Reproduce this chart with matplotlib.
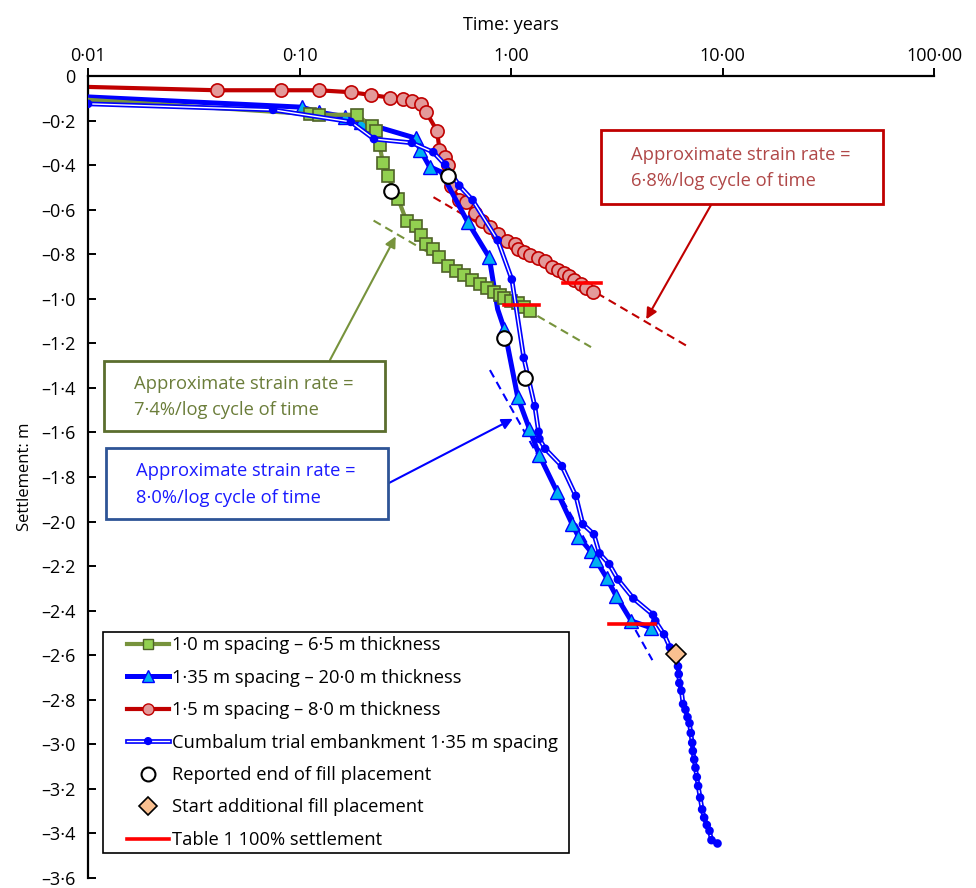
import numpy as np
import matplotlib
matplotlib.use("Agg")
import matplotlib.pyplot as plt
import matplotlib.patheffects as pe
from matplotlib.lines import Line2D
from matplotlib.patches import Rectangle

plt.rcParams['font.family'] = ['Open Sans', 'DejaVu Sans']

# ---- data (time in years, settlement in m) ----
green_t = [0.01, 0.112, 0.123, 0.186, 0.219, 0.229, 0.239, 0.248, 0.261, 0.293, 0.321,
           0.354, 0.375, 0.397, 0.428, 0.459, 0.505, 0.551, 0.597, 0.656, 0.716, 0.770,
           0.828, 0.885, 0.930, 1.000, 1.076, 1.157, 1.235]
green_s = [-0.107, -0.171, -0.174, -0.174, -0.225, -0.249, -0.309, -0.390, -0.450, -0.552, -0.653,
           -0.673, -0.713, -0.752, -0.775, -0.814, -0.853, -0.877, -0.895, -0.916, -0.934, -0.952,
           -0.970, -0.981, -0.996, -1.008, -1.020, -1.035, -1.056]

blue_t = [0.01, 0.1025, 0.123, 0.165, 0.196, 0.354, 0.372, 0.412, 0.466, 0.623, 0.789,
          0.865, 0.930, 1.076, 1.222, 1.362, 1.652, 1.940, 2.085, 2.377, 2.520, 2.830,
          3.134, 3.704, 4.571]
blue_s = [-0.094, -0.140, -0.162, -0.183, -0.207, -0.279, -0.332, -0.407, -0.430, -0.654, -0.814,
          -1.047, -1.136, -1.442, -1.584, -1.703, -1.867, -2.009, -2.068, -2.133, -2.173, -2.252,
          -2.332, -2.446, -2.476]
blue_marked = [1, 2, 3, 4, 5, 6, 7, 9, 10, 12, 13, 14, 15, 16, 17, 18, 19, 20, 21, 22, 23, 24]

red_t = [0.01, 0.0407, 0.0818, 0.123, 0.176, 0.217, 0.268, 0.310, 0.340, 0.374, 0.397,
         0.447, 0.459, 0.490, 0.501, 0.521, 0.570, 0.615, 0.675, 0.731, 0.793, 0.865,
         0.957, 1.044, 1.076, 1.156, 1.235, 1.339, 1.450, 1.560, 1.665, 1.778, 1.889,
         1.995, 2.146, 2.266, 2.438]
red_s = [-0.049, -0.064, -0.064, -0.064, -0.073, -0.085, -0.097, -0.103, -0.112, -0.127, -0.162,
         -0.246, -0.331, -0.365, -0.401, -0.492, -0.555, -0.567, -0.617, -0.650, -0.676, -0.711,
         -0.741, -0.754, -0.775, -0.790, -0.805, -0.816, -0.832, -0.856, -0.871, -0.886, -0.898,
         -0.916, -0.935, -0.950, -0.969]

cumb_t = [0.01, 0.075, 0.175, 0.225, 0.340, 0.429, 0.488, 0.569, 0.658, 0.865, 1.009,
          1.149, 1.296, 1.350, 1.362, 1.450, 1.740, 2.026, 2.187, 2.466, 2.620, 2.912,
          3.204, 3.788, 4.695, 4.812, 5.289, 5.644, 6.05, 6.16, 6.21, 6.25, 6.39, 6.51,
          6.68, 6.83, 6.98, 7.08, 7.19, 7.24, 7.35, 7.45, 7.56, 7.67, 7.84, 8.01,
          8.19, 8.43, 8.68, 8.87, 9.47]
cumb_s = [-0.125, -0.152, -0.206, -0.283, -0.300, -0.342, -0.398, -0.492, -0.557, -0.737, -0.913,
          -1.265, -1.482, -1.597, -1.629, -1.673, -1.751, -1.885, -2.012, -2.057, -2.143, -2.191,
          -2.260, -2.345, -2.419, -2.446, -2.506, -2.565, -2.600, -2.650, -2.685, -2.725, -2.759, -2.819,
          -2.844, -2.878, -2.905, -2.949, -2.993, -3.030, -3.068, -3.105, -3.147, -3.187, -3.239, -3.292,
          -3.329, -3.362, -3.388, -3.430, -3.445]

end_fill_t = [0.270, 0.501, 0.930, 1.165]
end_fill_s = [-0.515, -0.447, -1.174, -1.354]

add_fill_t = [6.05]
add_fill_s = [-2.595]

# Table 1 100% settlement bars: (t_start, t_end, settlement)
table1_t0 = [1.757, 0.923, 2.904]
table1_t1 = [2.650, 1.362, 4.780]
table1_s = [-0.931, -1.029, -2.458]

# strain rate fit lines (two end points each)
fit_red_t, fit_red_s = [0.430, 6.82], [-0.544, -1.213]
fit_green_t, fit_green_s = [0.224, 2.39], [-0.649, -1.217]
fit_blue_t, fit_blue_s = [0.795, 4.66], [-1.320, -2.622]

xticks = [0.01, 0.1, 1, 10, 100]
xtick_labels = ['0·01', '0·10', '1·00', '10·00', '100·00']
yticks = np.round(np.arange(0, -3.61, -0.2), 1)

# ---- figure ----
W, H = 976, 888
fig = plt.figure(figsize=(W / 100, H / 100), dpi=100)
ax = fig.add_axes([88 / W, 1 - 878 / H, (934 - 88) / W, (878 - 76) / H])


def fig_px(x, y):
    return (x / W, 1 - y / H)


ax.set_xscale('log')
ax.set_xlim(0.01, 100)
ax.set_ylim(-3.6, 0)

ax.plot(red_t, red_s, color='#c00000', lw=3, marker='o', ms=9.5, mfc='#e39a9a',
        mec='#c00000', mew=1.2, markevery=list(range(1, len(red_t))), zorder=2)
ax.plot(blue_t, blue_s, color='#0000ff', lw=3.6, marker='^', ms=9.5, mfc='#00b0f0',
        mec='#0000ff', mew=1.0, markevery=blue_marked, zorder=3)
ax.plot(green_t, green_s, color='#77933c', lw=3, marker='s', ms=8, mfc='#92d050',
        mec='#4f6228', mew=1.2, markevery=list(range(1, len(green_t))), zorder=4)
ax.plot(cumb_t, cumb_s, color='white', lw=1.0, marker='o', ms=2.8, mfc='#0000ff',
        mec='#0000ff', zorder=5,
        path_effects=[pe.Stroke(linewidth=3.4, foreground='#0000ff'), pe.Normal()])

for t0, t1, s in zip(table1_t0, table1_t1, table1_s):
    ax.plot([t0, t1], [s, s], color='#ff0000', lw=2.6, zorder=7)

ax.plot(end_fill_t, end_fill_s, ls='none', marker='o', ms=10.5, mfc='white', mec='black',
        mew=1.5, zorder=8)
ax.plot(add_fill_t, add_fill_s, ls='none', marker='D', ms=10, mfc='#fac090', mec='black',
        mew=1.2, zorder=8)

ax.plot(fit_red_t, fit_red_s, color='#c00000', lw=1.5, ls=(0, (4, 2.5)), zorder=1)
ax.plot(fit_green_t, fit_green_s, color='#77933c', lw=1.5, ls=(0, (4, 2.5)), zorder=1)
ax.plot(fit_blue_t, fit_blue_s, color='#0000ff', lw=1.5, ls=(0, (4, 2.5)), zorder=1)

# axes styling
ax.spines['right'].set_visible(False)
ax.spines['bottom'].set_visible(False)
ax.spines['left'].set_linewidth(1.6)
ax.spines['top'].set_linewidth(1.6)
ax.xaxis.tick_top()
ax.xaxis.set_label_position('top')
ax.set_xticks(xticks)
ax.set_xticklabels(xtick_labels)
ax.xaxis.set_minor_locator(matplotlib.ticker.NullLocator())
ax.set_yticks(yticks)
ax.set_yticklabels(['0' if v == 0 else '–' + f'{abs(v):.1f}'.replace('.', '·') for v in yticks])
ax.tick_params(axis='x', direction='out', length=6, width=1.4, labelsize=13, pad=2)
ax.tick_params(axis='y', direction='in', length=6, width=1.4, labelsize=13, pad=9)
ax.set_xlabel('Time: years', fontsize=13, labelpad=12)
ax.set_ylabel('Settlement: m', fontsize=12, labelpad=6)

# annotation boxes
boxes = [
    (601, 130, 883, 204, '#c00000', '#b04848', '#c00000',
     'Approximate strain rate =\n6·8%/log cycle of time', (711, 205), (4.36, -1.092)),
    (104, 361, 385, 431, '#5b6e2e', '#6b7d3a', '#77933c',
     'Approximate strain rate =\n7·4%/log cycle of time', (330, 360), (0.285, -0.720)),
    (106, 448, 388, 519, '#2e5496', '#1a1aff', '#0000ff',
     'Approximate strain rate =\n8·0%/log cycle of time', (389, 483), (1.02, -1.539)),
]
for x0, y0, x1, y1, ec, tc, ac, txt, start, tip in boxes:
    ax.add_patch(Rectangle(fig_px(x0, y1), (x1 - x0) / W, (y1 - y0) / H,
                           transform=fig.transFigure, fill=True, fc='white',
                           ec=ec, lw=2, zorder=10, clip_on=False))
    ax.text(*fig_px(x0 + 30, (y0 + y1) / 2 + 1), txt, color=tc, fontsize=13.2,
            transform=fig.transFigure, va='center', ha='left', linespacing=1.6, zorder=11)
    ax.annotate('', xy=tip, xycoords='data', xytext=fig_px(*start),
                textcoords='figure fraction',
                arrowprops=dict(arrowstyle='-|>', color=ac, lw=1.5, mutation_scale=16,
                                shrinkA=0, shrinkB=0))

# legend (frame drawn separately)
handles = [
    Line2D([], [], color='#77933c', lw=3, marker='s', ms=7, mfc='#92d050', mec='#4f6228'),
    Line2D([], [], color='#0000ff', lw=3.6, marker='^', ms=9, mfc='#00b0f0', mec='#0000ff'),
    Line2D([], [], color='#c00000', lw=3, marker='o', ms=8, mfc='#e39a9a', mec='#c00000'),
    Line2D([], [], color='white', lw=1.0, marker='o', ms=2.5, mfc='#0000ff', mec='#0000ff',
           path_effects=[pe.Stroke(linewidth=3.4, foreground='#0000ff'), pe.Normal()]),
    Line2D([], [], ls='none', marker='o', ms=10, mfc='white', mec='black', mew=1.5),
    Line2D([], [], ls='none', marker='D', ms=9.5, mfc='#fac090', mec='black', mew=1.2),
    Line2D([], [], color='#ff0000', lw=2.6),
]
labels = ['1·0 m spacing – 6·5 m thickness',
          '1·35 m spacing – 20·0 m thickness',
          '1·5 m spacing – 8·0 m thickness',
          'Cumbalum trial embankment 1·35 m spacing',
          'Reported end of fill placement',
          'Start additional fill placement',
          'Table 1 100% settlement']
ax.add_patch(Rectangle(fig_px(103, 853), (569 - 103) / W, (853 - 632) / H,
                       transform=fig.transFigure, fc='white', ec='black',
                       lw=1.2, zorder=11, clip_on=False))
leg = ax.legend(handles, labels, loc='center left', bbox_to_anchor=fig_px(127, 742.5),
                bbox_transform=fig.transFigure, fontsize=13.2, frameon=False,
                handlelength=2.3, handletextpad=0.18, labelspacing=0.79,
                borderpad=0, borderaxespad=0)
leg.set_zorder(12)

fig.savefig('out.png', dpi=100)
